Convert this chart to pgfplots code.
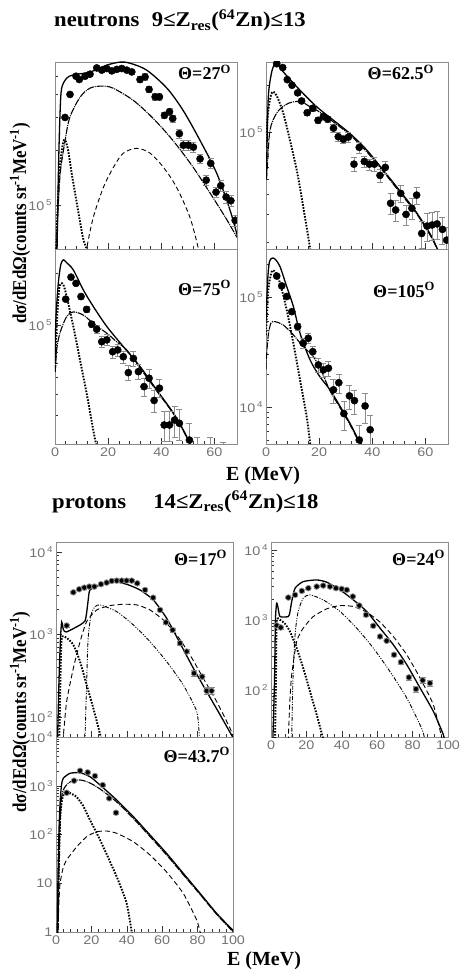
\documentclass[border=0pt]{standalone}
\usepackage{fontspec}
\setmainfont{Liberation Serif}
\newfontfamily\tickfont{Liberation Sans}
\usepackage{pgfplots}
\pgfplotsset{compat=1.18}
\newcommand{\sx}[1]{\scalebox{1.15}[1]{#1}}
\newcommand{\tp}[1]{\sx{10\kern1.5pt\raisebox{0.75ex}{\fontsize{8.5}{8.5}\selectfont #1}}}
\newcommand{\ang}[1]{Θ=#1\textsuperscript{O}}
\pgfplotsset{every axis/.append style={
    scale only axis, anchor=south west,
    clip marker paths=true,
    axis line style={black!45, line width=0.7pt},
    tick align=inside, xtick pos=left, ytick pos=left,
    major tick length=6pt, minor tick length=3pt,
    every tick/.append style={black!80, line width=0.5pt},
    tick label style={font=\tickfont\fontsize{12.5}{12.5}\selectfont, text=black!55},
    /pgf/number format/assume math mode=true,
    minor x tick num=4,
}}
\tikzset{
  tot/.style={black, line width=1.3pt, smooth, tension=0.5},
  dotc/.style={black, line width=1.9pt, dash pattern=on 1.6pt off 1.4pt, smooth, tension=0.5},
  dashc/.style={black, line width=0.9pt, dash pattern=on 4.5pt off 3pt, smooth, tension=0.5},
  dshdt/.style={black, line width=1.1pt, dash pattern=on 7pt off 1pt on 1pt off 1pt, smooth, tension=0.5},
  ddd/.style={black, line width=0.9pt, dash pattern=on 4pt off 1.5pt on 1pt off 1.5pt on 1pt off 1.5pt, smooth, tension=0.4},
  ptot/.style={black, line width=1.3pt, smooth, tension=0.35},
  pdot/.style={black, line width=1.9pt, dash pattern=on 1.6pt off 1.4pt, smooth, tension=0.35},
  pdash/.style={black, line width=0.9pt, dash pattern=on 5pt off 3pt, smooth, tension=0.35},
  plabel/.style={anchor=base east, font=\bfseries\fontsize{18}{18}\selectfont, inner sep=0pt},
  bigtxt/.style={font=\bfseries\fontsize{21}{21}\selectfont, inner sep=0pt},
  ylab/.style={rotate=90, font=\bfseries\fontsize{17}{17}\selectfont, inner sep=0pt},
}
\pgfplotsset{
  ndat/.style={only marks, mark=*, mark size=3.6pt, mark options={black, fill=black},
    error bars/y dir=both, error bars/y explicit relative,
    error bars/error bar style={black!45, line width=0.6pt},
    error bars/error mark options={rotate=90, black!45, mark size=3pt, line width=0.6pt}},
  pdat/.style={only marks, mark=*, mark size=2.8pt, mark options={draw=black!45, fill=black, line width=0.8pt},
    error bars/y dir=both, error bars/y explicit relative,
    error bars/error bar style={black!45, line width=0.6pt},
    error bars/error mark options={rotate=90, black!45, mark size=3pt, line width=0.6pt}},
}
\begin{document}
\begin{tikzpicture}
\path[use as bounding box] (0pt,0pt) rectangle (461pt,-973pt);

% ---------------- titles and labels ----------------
\node[bigtxt, anchor=base west] at (54pt,-27pt)
  {\scalebox{1.08}[1]{neutrons\hspace{0.55em}9≤Z\textsubscript{res}(\textsuperscript{64}Zn)≤13}};
\node[bigtxt, anchor=base west] at (52pt,-508pt)
  {\scalebox{1.08}[1]{protons\hspace{1.2em}14≤Z\textsubscript{res}(\textsuperscript{64}Zn)≤18}};
\node[ylab] at (20pt,-223.5pt)
  {\scalebox{1}[1.15]{dσ/dEdΩ(counts sr\textsuperscript{-1}MeV\textsuperscript{-1})}};
\node[ylab] at (20pt,-712pt)
  {\scalebox{1}[1.15]{dσ/dEdΩ(counts sr\textsuperscript{-1}MeV\textsuperscript{-1})}};
\node[bigtxt, anchor=base, font=\bfseries\fontsize{20}{20}\selectfont] at (263pt,-480pt) {E (MeV)};
\node[bigtxt, anchor=base, font=\bfseries\fontsize{20}{20}\selectfont] at (264pt,-965pt) {E (MeV)};

% ---------------- N1: 27 deg ----------------
\begin{axis}[ymode=log, at={(55pt,-249pt)}, width=182pt, height=187pt, xmin=0, xmax=68.5, xtick={0,20,40,60},
  ymin=5.8e4, ymax=6.0e5,
  xticklabels={}, ytick={1e5}, yticklabels={\tp{5}},
  minor ytick={6e4,7e4,8e4,9e4,2e5,3e5,4e5,5e5}]
\addplot[tot] coordinates {(0.7,5.0e4) (1.3,1.55e5) (1.9,3.16e5) (2.5,4.32e5) (4.4,4.9e5) (6.8,5.1e5) (13.2,5.29e5) (19.5,5.77e5) (24.5,5.99e5) (28.2,5.91e5) (34.5,5.42e5) (42.1,4.33e5) (48.2,3.28e5) (54.6,2.25e5) (60.9,1.49e5) (65.9,9.4e4) (68.4,7.05e4) (69,6.6e4)};
\addplot[dshdt] coordinates {(0.5,5.5e4) (0.9,8.0e4) (1.9,1.46e5) (3.8,2.25e5) (5.6,3.01e5) (9.4,3.86e5) (13.2,4.33e5) (17.6,4.44e5) (21.8,4.33e5) (29.4,3.72e5) (36.9,2.97e5) (44.4,2.25e5) (52.0,1.61e5) (59.5,1.10e5) (64.8,8.3e4) (68.5,6.7e4)};
\addplot[dotc] coordinates {(0.3,5.0e4) (1.1,1.06e5) (1.9,1.65e5) (3.0,2.17e5) (3.8,2.26e5) (4.9,2.0e5) (6.4,1.46e5) (8.2,1.03e5) (10.5,6.7e4) (11.9,5.8e4) (12.6,5.0e4)};
\addplot[dashc] coordinates {(11.5,5.0e4) (11.9,5.8e4) (14.4,8.6e4) (18.2,1.25e5) (22.0,1.61e5) (25.7,1.92e5) (30.8,2.04e5) (35.8,1.92e5) (40.8,1.61e5) (45.8,1.25e5) (50.8,8.6e4) (54.0,5.8e4) (54.5,5.0e4)};
\addplot[ndat] coordinates {
(3.77,3.0e5) +- (0,0.025) (5.65,4.0e5) +- (0,0.025) (7.91,5.02e5) +- (0,0.025) (9.15,4.82e5) +- (0,0.025)
(11.3,5.02e5) +- (0,0.025) (13.18,5.15e5) +- (0,0.025) (15.71,5.57e5) +- (0,0.025) (17.59,5.42e5) +- (0,0.025)
(19.47,5.53e5) +- (0,0.025) (21.36,5.37e5) +- (0,0.025) (23.24,5.47e5) +- (0,0.025) (25.12,5.53e5) +- (0,0.025)
(27.0,5.42e5) +- (0,0.025) (28.9,5.30e5) +- (0,0.025) (32.0,4.82e5) +- (0,0.04) (33.9,4.98e5) +- (0,0.04)
(35.4,4.26e5) +- (0,0.04) (37.7,3.88e5) +- (0,0.04) (39.3,3.88e5) +- (0,0.04) (41.2,3.08e5) +- (0,0.04)
(43.1,3.22e5) +- (0,0.04) (44.3,2.96e5) +- (0,0.04) (46.8,2.45e5) +- (0,0.06) (48.3,2.12e5) +- (0,0.06)
(50.2,2.12e5) +- (0,0.06) (52.1,2.07e5) +- (0,0.06) (54.6,1.79e5) +- (0,0.06) (56.9,1.37e5) +- (0,0.06)
(58.6,1.69e5) +- (0,0.06) (60.6,1.18e5) +- (0,0.06) (62.4,1.28e5) +- (0,0.07) (64.4,1.11e5) +- (0,0.07)
(66.2,1.06e5) +- (0,0.07) (67.8,8.3e4) +- (0,0.07)};
\end{axis}
\node[plabel] at (231pt,-80pt) {\ang{27}};

% ---------------- N2: 62.5 deg ----------------
\begin{axis}[ymode=log, at={(266pt,-249pt)}, width=182pt, height=187pt, xmin=0, xmax=68.5, xtick={0,20,40,60},
  ymin=1.8e4, ymax=2.8e5,
  xticklabels={}, ytick={1e5}, yticklabels={\tp{5}},
  minor ytick={2e4,3e4,4e4,5e4,6e4,7e4,8e4,9e4,2e5}]
\addplot[tot] coordinates {(0.1,5.0e4) (0.3,7.0e4) (0.87,1.68e5) (2.15,2.42e5) (3.39,2.74e5) (4.14,2.76e5) (6.52,2.42e5) (12.8,1.85e5) (19.1,1.45e5) (25.4,1.19e5) (31.6,9.8e4) (37.9,7.7e4) (44.2,5.7e4) (50.5,4.2e4) (56.5,3.1e4) (61.8,2.24e4) (64.4,1.82e4) (65.5,1.65e4)};
\addplot[dshdt] coordinates {(0.2,5.0e4) (0.49,6.0e4) (1.5,1.03e5) (4.0,1.32e5) (7.2,1.49e5) (10.3,1.56e5) (13.4,1.56e5) (16.6,1.45e5) (19.1,1.38e5) (25.4,1.16e5) (31.6,9.6e4) (37.9,7.5e4) (44.2,5.6e4) (50.5,4.1e4) (56.5,3.05e4) (61.8,2.2e4) (64.4,1.8e4) (65.5,1.62e4)};
\addplot[dotc] coordinates {(0.0,8.0e4) (0.1,9.6e4) (0.87,1.38e5) (1.88,1.72e5) (2.75,1.81e5) (4.14,1.69e5) (6.5,1.32e5) (9.0,8.9e4) (11.6,5.7e4) (14.0,3.35e4) (16.6,1.82e4) (17.2,1.6e4)};
\addplot[ndat] coordinates {
(4.03,2.73e5) +- (0,0.03) (6.29,2.58e5) +- (0,0.03) (8.02,2.16e5) +- (0,0.03) (9.79,1.99e5) +- (0,0.03)
(11.9,1.78e5) +- (0,0.03) (13.4,1.58e5) +- (0,0.04) (15.5,1.33e5) +- (0,0.04) (17.6,1.42e5) +- (0,0.05)
(19.6,1.19e5) +- (0,0.05) (21.6,1.26e5) +- (0,0.05) (23.2,1.21e5) +- (0,0.05) (25.4,1.06e5) +- (0,0.06)
(27.2,9.35e4) +- (0,0.06) (29.1,9.0e4) +- (0,0.06) (31.0,9.3e4) +- (0,0.07) (33.1,6.25e4) +- (0,0.1)
(35.1,8.0e4) +- (0,0.08) (37.0,6.5e4) +- (0,0.08) (38.9,6.25e4) +- (0,0.08) (40.8,6.25e4) +- (0,0.1)
(42.9,5.3e4) +- (0,0.1) (44.9,5.96e4) +- (0,0.1) (46.9,3.52e4) +- (0,0.15) (48.8,3.19e4) +- (0,0.15)
(50.7,4.07e4) +- (0,0.12) (52.7,2.99e4) +- (0,0.15) (54.9,3.27e4) +- (0,0.15) (56.7,3.97e4) +- (0,0.12)
(58.6,2.26e4) +- (0,0.2) (60.6,2.52e4) +- (0,0.2) (62.5,2.56e4) +- (0,0.2) (64.4,2.6e4) +- (0,0.2)
(66.4,2.4e4) +- (0,0.2) (68.0,2.05e4) +- (0,0.2)};
\end{axis}
\node[plabel] at (434pt,-80pt) {\ang{62.5}};

% ---------------- N3: 75 deg ----------------
\begin{axis}[ymode=log, at={(55pt,-444pt)}, width=182pt, height=195pt, xmin=0, xmax=68.5, xtick={0,20,40,60},
  xticklabels={\sx{0},\sx{20},\sx{40},\sx{60}},
  ymin=2.05e4, ymax=2.75e5,
  ytick={1e5}, yticklabels={\tp{5}},
  minor ytick={3e4,4e4,5e4,6e4,7e4,8e4,9e4,2e5}]
\addplot[tot] coordinates {(0.0,6.0e4) (0.1,7.2e4) (0.38,1.12e5) (1.24,1.74e5) (2.15,2.22e5) (3.13,2.38e5) (4.14,2.31e5) (6.9,2.08e5) (10.7,1.59e5) (14.4,1.28e5) (19.5,9.8e4) (25.7,7.5e4) (32.0,5.75e4) (38.3,4.21e4) (44.6,3.09e4) (48.3,2.47e4) (50.8,2.07e4) (51.5,1.95e4)};
\addplot[dshdt] coordinates {(0.1,5.35e4) (0.64,7.2e4) (1.88,9.0e4) (4.4,1.12e5) (6.9,1.19e5) (10.7,1.14e5) (14.4,1.02e5) (19.5,8.96e4) (23.2,8.0e4) (27.0,7.17e4) (32.0,5.64e4) (38.3,4.15e4) (44.6,3.06e4) (48.3,2.44e4) (50.8,2.05e4) (51.5,1.93e4)};
\addplot[dotc] coordinates {(0.1,5.74e4) (0.75,1.07e5) (1.5,1.59e5) (2.26,1.74e5) (3.2,1.70e5) (4.4,1.46e5) (6.9,9.8e4) (9.4,6.28e4) (11.9,4.03e4) (14.4,2.47e4) (15.4,2.07e4) (16.0,1.9e4)};
\addplot[ndat] coordinates {
(4.03,1.41e5) +- (0,0.03) (6.03,1.89e5) +- (0,0.03) (7.91,1.74e5) +- (0,0.03) (9.79,1.46e5) +- (0,0.03)
(11.9,1.23e5) +- (0,0.04) (13.8,1.01e5) +- (0,0.04) (15.7,9.45e4) +- (0,0.05) (17.6,8.0e4) +- (0,0.07)
(19.5,8.2e4) +- (0,0.07) (21.7,7.0e4) +- (0,0.08) (23.6,7.17e4) +- (0,0.08) (25.7,6.55e4) +- (0,0.08)
(27.6,5.3e4) +- (0,0.1) (29.5,6.4e4) +- (0,0.1) (31.4,5.37e4) +- (0,0.1) (33.5,4.4e4) +- (0,0.12)
(35.4,4.92e4) +- (0,0.12) (37.3,3.66e4) +- (0,0.15) (39.3,4.31e4) +- (0,0.12) (41.1,2.64e4) +- (0,0.2)
(43.1,2.64e4) +- (0,0.2) (45.0,2.82e4) +- (0,0.2) (46.8,2.7e4) +- (0,0.2) (50.6,2.16e4) +- (0,0.25)
(53.4,1.6e4) +- (0,0.4) (58.4,1.6e4) +- (0,0.4) (63.2,1.5e4) +- (0,0.4)};
\end{axis}
\node[plabel] at (231pt,-295pt) {\ang{75}};

% ---------------- N4: 105 deg ----------------
\begin{axis}[ymode=log, at={(266pt,-444pt)}, width=182pt, height=195pt, xmin=0, xmax=68.5, xtick={0,20,40,60},
  xticklabels={\sx{0},\sx{20},\sx{40},\sx{60}},
  ymin=4.6e3, ymax=2.73e5,
  ytick={1e4,1e5}, yticklabels={\tp{4},\tp{5}},
  minor ytick={5e3,6e3,7e3,8e3,9e3,2e4,3e4,4e4,5e4,6e4,7e4,8e4,9e4,2e5}]
\addplot[tot] coordinates {(0.0,6.0e4) (0.19,8.2e4) (0.75,1.58e5) (1.3,2.08e5) (2.15,2.25e5) (3.4,2.21e5) (5.3,1.88e5) (7.8,1.24e5) (10.3,8.2e4) (12.8,4.68e4) (16.6,2.67e4) (20.3,1.88e4) (24.1,1.43e4) (27.9,1.01e4) (31.6,7.1e3) (34.8,5.0e3) (35.8,4.6e3) (36.5,4.3e3)};
\addplot[dshdt] coordinates {(0.0,2.2e4) (0.19,2.87e4) (0.87,4.52e4) (1.88,5.8e4) (3.4,5.96e4) (6.5,5.56e4) (10.3,4.52e4) (14.0,3.53e4) (17.8,2.87e4) (21.0,2.08e4) (24.1,1.4e4) (27.9,9.8e3) (31.6,6.9e3) (34.8,4.9e3) (35.8,4.6e3) (36.5,4.3e3)};
\addplot[dotc] coordinates {(0.0,4.5e4) (0.19,5.77e4) (0.87,1.16e5) (2.15,1.70e5) (3.4,1.69e5) (5.3,1.33e5) (7.8,7.6e4) (10.3,3.8e4) (12.8,1.76e4) (15.3,8.2e3) (16.6,4.7e3) (17.0,4.2e3)};
\addplot[ndat] coordinates {
(4.03,1.55e5) +- (0,0.03) (5.91,1.26e5) +- (0,0.03) (7.8,1.01e5) +- (0,0.04) (9.7,7.35e4) +- (0,0.05)
(11.9,5.37e4) +- (0,0.07) (14.0,3.79e4) +- (0,0.1) (15.9,4.21e4) +- (0,0.1) (17.6,3.18e4) +- (0,0.12)
(19.7,2.41e4) +- (0,0.15) (21.6,2.17e4) +- (0,0.15) (23.5,2.25e4) +- (0,0.15) (25.4,1.43e4) +- (0,0.25)
(27.4,1.66e4) +- (0,0.2) (29.3,8.7e3) +- (0,0.3) (31.4,1.26e4) +- (0,0.25) (33.3,1.14e4) +- (0,0.25)
(35.1,5.0e3) +- (0,0.35) (37.3,1.02e4) +- (0,0.3) (39.2,6.2e3) +- (0,0.35)};
\end{axis}
\node[plabel] at (435pt,-297pt) {\ang{105}};

% ---------------- P1: 17 deg ----------------
\begin{axis}[ymode=log, at={(56pt,-737pt)}, width=177pt, height=195pt, xmin=0, xmax=100, xtick={0,20,40,60,80,100},
  ymin=57, ymax=1.32e4,
  xticklabels={}, ytick={1e2,1e3,1e4}, yticklabels={\tp{2},\tp{3},\tp{4}},
  minor ytick={60,70,80,90,200,300,400,500,600,700,800,900,2000,3000,4000,5000,6000,7000,8000,9000}]
\addplot[ptot] coordinates {(0.85,50) (1.7,281) (2.5,857) (3.2,1420) (4.2,1135) (6.0,1072) (13.6,1303) (16.4,1458) (17.3,1824) (18.2,2620) (19.2,3460) (24.9,3980) (32.4,4365) (39.9,4058) (47.5,3460) (55.0,2620) (62.5,1570) (70.1,782) (77.6,389) (85.1,203) (92.7,106) (99.8,57) (100.5,54)};
\addplot[pdash] coordinates {(3.9,50) (4.1,57) (6.0,153) (9.8,389) (13.6,818) (17.3,1429) (23.0,1981) (30.5,2234) (38.0,2323) (45.6,2280) (53.1,1981) (60.6,1500) (68.2,986) (75.7,565) (83.2,294) (90.8,153) (98.3,73) (100.5,55)};
\addplot[ddd] coordinates {(16.3,50) (16.4,57) (17.2,212) (18.1,857) (19.8,1722) (22.0,2155) (24.9,2280) (34.3,1890) (43.7,1303) (53.1,818) (62.5,468) (71.9,244) (79.5,116) (81.0,57) (81.3,50)};
\addplot[pdot] coordinates {(1.8,50) (1.9,57) (2.5,281) (3.2,900) (6.0,908) (9.8,747) (13.6,468) (17.3,244) (21.1,127) (25.3,57) (25.6,50)};
\addplot[pdat] coordinates {
(6.0,1280) +- (0,0.04) (9.8,3240) +- (0,0.03) (13.1,3530) +- (0,0.03) (16.0,3690) +- (0,0.03)
(18.8,3800) +- (0,0.03) (21.7,3800) +- (0,0.03) (25.4,4060) +- (0,0.03) (28.6,4245) +- (0,0.03)
(31.5,4450) +- (0,0.03) (34.3,4490) +- (0,0.03) (37.1,4490) +- (0,0.03) (39.9,4490) +- (0,0.03)
(42.8,4490) +- (0,0.03) (45.9,4170) +- (0,0.03) (50.3,3460) +- (0,0.04) (54.9,2790) +- (0,0.04)
(58.8,1980) +- (0,0.04) (62.1,1400) +- (0,0.05) (65.9,1130) +- (0,0.05) (70.1,782) +- (0,0.06)
(73.8,620) +- (0,0.06) (78.0,338) +- (0,0.08) (82.6,308) +- (0,0.08) (85.1,207) +- (0,0.1) (87.9,207) +- (0,0.1)};
\end{axis}
\node[plabel] at (227pt,-565pt) {\ang{17}};

% ---------------- P2: 24 deg ----------------
\begin{axis}[ymode=log, at={(271pt,-737pt)}, width=177pt, height=195pt, xmin=0, xmax=100, xtick={0,20,40,60,80,100},
  xticklabels={\sx{0},\sx{20},\sx{40},\sx{60},\sx{80},\sx{100}},
  ymin=21, ymax=1.3e4,
  ytick={1e2,1e3,1e4}, yticklabels={\tp{2},\tp{3},\tp{4}},
  minor ytick={30,40,50,60,70,80,90,200,300,400,500,600,700,800,900,2000,3000,4000,5000,6000,7000,8000,9000}]
\addplot[ptot] coordinates {(1.0,18) (1.1,21) (2.0,139) (2.5,1000) (3.2,1734) (4.0,1484) (5.1,1114) (9.8,1114) (10.7,1300) (11.7,1824) (13.6,2840) (18.2,3525) (25.8,3725) (31.5,3460) (39.0,2683) (46.5,1931) (54.1,1316) (61.6,760) (69.1,439) (76.7,228) (84.2,106) (91.7,49) (97.3,23) (97.8,20)};
\addplot[pdash] coordinates {(9.6,18) (9.8,21) (10.7,72) (11.7,164) (14.5,490) (18.2,760) (23.9,1114) (31.5,1437) (39.0,1600) (46.5,1549) (54.1,1288) (61.6,927) (69.1,577) (76.7,316) (84.2,147) (91.7,61) (96.4,21) (96.8,19)};
\addplot[ddd] coordinates {(11.6,18) (11.7,21) (12.4,139) (13.6,611) (15.3,1300) (18.2,2042) (22.0,2276) (29.5,1931) (39.0,1316) (48.4,760) (57.8,394) (67.2,182) (76.7,76) (85.1,28) (86.6,21) (86.9,19)};
\addplot[pdot] coordinates {(2.2,18) (2.3,21) (2.8,139) (3.2,946) (5.1,1000) (7.9,877) (10.7,681) (14.5,394) (18.2,204) (22.0,95) (25.8,44) (29.2,21) (29.5,19)};
\addplot[pdat] coordinates {
(3.2,830) +- (0,0.05) (5.5,776) +- (0,0.05) (9.8,2085) +- (0,0.03) (13.6,2275) +- (0,0.03)
(17.4,2596) +- (0,0.03) (21.1,2838) +- (0,0.03) (25.8,2993) +- (0,0.03) (29.5,3093) +- (0,0.03)
(33.3,2993) +- (0,0.03) (36.7,2838) +- (0,0.03) (39.9,2774) +- (0,0.03) (42.8,2683) +- (0,0.03)
(46.2,2155) +- (0,0.04) (49.9,1600) +- (0,0.04) (53.7,1179) +- (0,0.04) (57.8,821) +- (0,0.05)
(61.6,577) +- (0,0.05) (65.3,501) +- (0,0.05) (69.5,316) +- (0,0.06) (73.4,248) +- (0,0.06)
(77.9,150) +- (0,0.08) (81.9,102) +- (0,0.1) (85.7,136) +- (0,0.1) (89.8,124) +- (0,0.1)};
\end{axis}
\node[plabel] at (445pt,-565pt) {\ang{24}};

% ---------------- P3: 43.7 deg ----------------
\begin{axis}[ymode=log, at={(56pt,-932pt)}, width=177pt, height=195pt, xmin=0, xmax=100, xtick={0,20,40,60,80,100},
  xticklabels={\sx{0},\sx{20},\sx{40},\sx{60},\sx{80},\sx{100}},
  ymin=1, ymax=1e4,
  ytick={1,10,1e2,1e3,1e4}, yticklabels={\sx{1},\sx{10},\tp{2},\tp{3},\tp{4}},
  minor ytick={2,3,4,5,6,7,8,9,20,30,40,50,60,70,80,90,200,300,400,500,600,700,800,900,2000,3000,4000,5000,6000,7000,8000,9000}]
\addplot[ptot] coordinates {(0.6,0.8) (0.73,1.0) (1.1,11.7) (1.7,124) (2.3,437) (3.1,1035) (4.1,1422) (7.9,1800) (13.6,1854) (19.2,1535) (24.9,1035) (34.3,510) (43.7,232) (53.1,98) (62.5,41) (71.9,16) (81.4,6.2) (90.8,2.4) (100.2,1.06)};
\addplot[dshdt] coordinates {(0.9,0.8) (1.1,1.1) (2.0,77) (2.8,403) (4.1,818) (7.9,1194) (13.6,1312) (19.2,1138) (24.9,857) (34.3,465) (43.7,213) (53.1,91) (62.5,38) (71.9,15) (81.4,5.9) (90.8,2.3) (100.2,1.0)};
\addplot[pdash] coordinates {(1.0,0.8) (1.1,1.0) (1.7,4.5) (2.3,10) (4.0,20.6) (6.0,30) (11.7,56) (17.3,90) (23.0,114) (28.6,118) (34.3,106) (43.7,71) (53.1,38) (62.5,17) (71.9,6.2) (79.5,1.76) (81.4,1.0) (81.8,0.9)};
\addplot[pdot] coordinates {(0.7,0.8) (0.85,1.0) (1.4,11.7) (2.3,198) (3.4,510) (5.1,745) (7.9,710) (11.7,587) (15.4,385) (19.2,198) (23.0,107) (26.7,56) (34.3,13.6) (39.9,3.9) (42.8,1.0) (43.2,0.9)};
\addplot[pdat] coordinates {
(6.0,720) +- (0,0.05) (10.2,1270) +- (0,0.04) (13.6,2030) +- (0,0.04) (17.9,1880) +- (0,0.04)
(22.0,1585) +- (0,0.04) (26.4,1035) +- (0,0.05) (30.1,552) +- (0,0.06) (33.9,280) +- (0,0.08)};
\end{axis}
\node[plabel] at (230pt,-762pt) {\ang{43.7}};
\end{tikzpicture}
\end{document}
